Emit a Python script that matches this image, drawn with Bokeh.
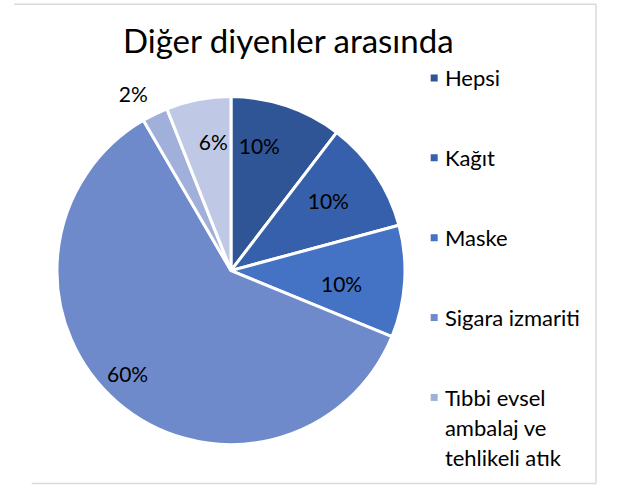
import math
from bokeh.plotting import figure
from bokeh.models import ColumnDataSource, Range1d
from bokeh.core.properties import value
from bokeh.embed import file_html
from bokeh.resources import INLINE

# ---- data ----
title_text = "Diğer diyenler arasında"
categories = ["Hepsi", "Kağıt", "Maske", "Sigara izmariti",
              "Tıbbi evsel ambalaj ve tehlikeli atık", "Diğer"]
shares = [10.4, 10.4, 10.4, 60.4, 2.4, 6.0]
legend_labels = ["Hepsi", "Kağıt", "Maske", "Sigara izmariti",
                 "Tıbbi evsel\nambalaj ve\ntehlikeli atık"]

# ---- style ----
colors = ["#2F5597", "#3660AB", "#4472C4", "#6F8ACB", "#A0B0DA", "#BFC9E5"]
label_r = [0.74, 0.69, 0.64, 0.84, 1.16, 0.75]
label_shift_deg = [-6, -2, 3, 4, -3, 3]
FONT = "Lato"

W, H = 613, 486
SX, SY = W / 629.0, H / 502.0


def px(x):
    return x * SX


def py(y):
    return H - y * SY


p = figure(width=W, height=H, output_backend="svg", toolbar_location=None,
           x_range=Range1d(0, W), y_range=Range1d(0, H), min_border=0,
           outline_line_color=None)
p.axis.visible = False
p.grid.visible = False
p.background_fill_color = "white"
p.border_fill_color = "white"

# frame (partial, light gray)
fx0, fx1, fxb = px(14), px(611), px(32)
fy_top, fy_bot = py(4), py(499)
p.segment(x0=[fx0, fx1, fxb], y0=[fy_top, fy_top, fy_bot],
          x1=[fx1, fx1, fx1], y1=[fy_top, fy_bot, fy_bot],
          line_color="#D9D9D9", line_width=1.5)

cx, cy, r = px(236.5), py(279), 174.0
total = sum(shares)
starts, ends, mids = [], [], []
acc = 0.0
for s in shares:
    a0 = acc / total
    acc += s
    a1 = acc / total
    starts.append(math.pi / 2 - 2 * math.pi * a0)
    ends.append(math.pi / 2 - 2 * math.pi * a1)
    mids.append((a0 + a1) / 2)

src = ColumnDataSource(dict(start=starts, end=ends, color=colors, cat=categories))
p.wedge(x=cx, y=cy, radius=r, start_angle="start", end_angle="end",
        direction="clock", fill_color="color", line_color="white",
        line_width=3, source=src)

# percentage labels
lx, ly, lt = [], [], []
for i, s in enumerate(shares):
    ang = 2 * math.pi * mids[i] + math.radians(label_shift_deg[i])
    rr = r * label_r[i]
    lx.append(cx + rr * math.sin(ang))
    ly.append(cy + rr * math.cos(ang))
    lt.append(f"{round(s / total * 100)}%")
p.text(x=lx, y=ly, text=lt, text_align="center", text_baseline="middle",
       text_font=value(FONT), text_font_size="21px", text_color="#000000")

# title
p.text(x=[px(296)], y=[py(41)], text=[title_text], text_align="center",
       text_baseline="alphabetic", text_font=value(FONT),
       text_font_size="33px", text_color="#000000")

# legend
leg_x_sq, leg_x_txt = px(445), px(456)
leg_y0, leg_dy, line_dy = 80, 82.5, 31
sq_x, sq_y, sq_c = [], [], []
tx, ty, tt = [], [], []
for i, lab in enumerate(legend_labels):
    yy = leg_y0 + i * leg_dy
    sq_x.append(leg_x_sq)
    sq_y.append(py(yy))
    sq_c.append(colors[i])
    for j, line in enumerate(lab.split("\n")):
        tx.append(leg_x_txt)
        ty.append(py(yy + j * line_dy))
        tt.append(line)
p.rect(x=sq_x, y=sq_y, width=7, height=7, fill_color=sq_c, line_color=None)
p.text(x=tx, y=ty, text=tt, text_align="left", text_baseline="middle",
       text_font=value(FONT), text_font_size="22px", text_color="#000000")

open("out.html", "w").write(file_html(p, INLINE))
